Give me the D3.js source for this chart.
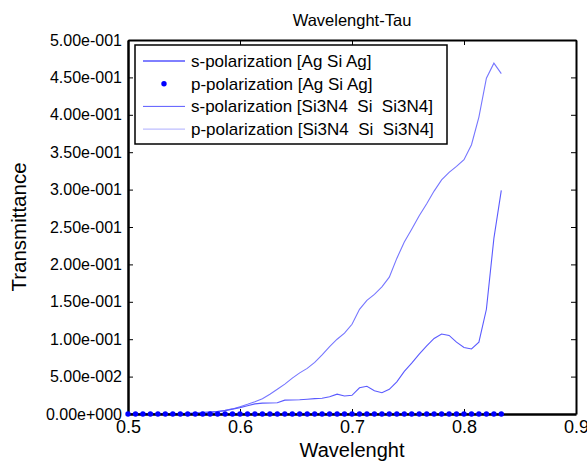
<!DOCTYPE html>
<html>
<head>
<meta charset="utf-8">
<script src="https://cdn.jsdelivr.net/npm/d3@7"></script>
<style>
  html, body { margin: 0; padding: 0; background: #fff; }
  svg { display: block; font-family: "Liberation Sans", Arial, sans-serif; }
  .pre { white-space: pre; }
</style>
</head>
<body>
<svg id="chart" width="587" height="461"></svg>
<script>
// ---- data ----
const wavelength = [
  0.5000, 0.5067, 0.5133, 0.5200, 0.5267, 0.5333, 0.5400, 0.5467, 0.5533, 0.5600,
  0.5667, 0.5733, 0.5800, 0.5867, 0.5933, 0.6000, 0.6067, 0.6133, 0.6200, 0.6267,
  0.6333, 0.6400, 0.6467, 0.6533, 0.6600, 0.6667, 0.6733, 0.6800, 0.6867, 0.6933,
  0.7000, 0.7067, 0.7133, 0.7200, 0.7267, 0.7333, 0.7400, 0.7467, 0.7533, 0.7600,
  0.7667, 0.7733, 0.7800, 0.7867, 0.7933, 0.8000, 0.8067, 0.8133, 0.8200, 0.8267,
  0.8333
];
const sAgSiAg = [
  0,0,0,0,0,0,0,0,0,0, 0,0,0,0,0,0,0,0,0,0, 0,0,0,0,0,0,0,0,0,0,
  0,0,0,0,0,0,0,0,0,0, 0,0,0,0,0,0,0,0,0,0, 0
];
const pAgSiAg = [
  0,0,0,0,0,0,0,0,0,0, 0,0,0,0,0,0,0,0,0,0, 0,0,0,0,0,0,0,0,0,0,
  0,0,0,0,0,0,0,0,0,0, 0,0,0,0,0,0,0,0,0,0, 0
];
const sSi3N4 = [
  0, 0, 0, 0, 0, 0, 0, 0, 0, 0.0005,
  0.001, 0.002, 0.003, 0.0045, 0.0065, 0.0085, 0.011, 0.0135, 0.0145, 0.0148,
  0.015, 0.0185, 0.0188, 0.019, 0.0198, 0.0205, 0.021, 0.023, 0.0265, 0.024,
  0.025, 0.035, 0.037, 0.031, 0.0285, 0.033, 0.043, 0.057, 0.068, 0.080,
  0.091, 0.101, 0.107, 0.105, 0.096, 0.089, 0.087, 0.096, 0.140, 0.235,
  0.299
];
const pSi3N4 = [
  0, 0, 0, 0, 0, 0, 0.0002, 0.0005, 0.001, 0.0015,
  0.0022, 0.003, 0.0035, 0.0048, 0.0068, 0.0098, 0.013, 0.0165, 0.0205, 0.0265,
  0.033, 0.040, 0.048, 0.055, 0.061, 0.069, 0.079, 0.090, 0.100, 0.108,
  0.120, 0.140, 0.152, 0.160, 0.170, 0.183, 0.208, 0.230, 0.247, 0.265,
  0.281, 0.298, 0.313, 0.323, 0.331, 0.340, 0.360, 0.397, 0.449, 0.469,
  0.455
];
const xTicks = [0.5, 0.6, 0.7, 0.8, 0.9];
const xTickLabels = ["0.5", "0.6", "0.7", "0.8", "0.9"];
const yTicks = [0, 0.05, 0.1, 0.15, 0.2, 0.25, 0.3, 0.35, 0.4, 0.45, 0.5];
const yTickLabels = ["0.00e+000", "5.00e-002", "1.00e-001", "1.50e-001", "2.00e-001",
  "2.50e-001", "3.00e-001", "3.50e-001", "4.00e-001", "4.50e-001", "5.00e-001"];
const seriesNames = ["s-polarization [Ag Si Ag]", "p-polarization [Ag Si Ag]",
  "s-polarization [Si3N4  Si  Si3N4]", "p-polarization [Si3N4  Si  Si3N4]"];
const chartTitle = "Wavelenght-Tau";
const xTitle = "Wavelenght";
const yTitle = "Transmittance";

// ---- layout ----
const L = 128, R = 576, T = 40, B = 414;
const svg = d3.select("#chart");
svg.append("rect").attr("width", 587).attr("height", 461).attr("fill", "#fff");

const x = d3.scaleLinear().domain([0.5, 0.9]).range([L, R]);
const y = d3.scaleLinear().domain([0, 0.5]).range([B, T]);

const colors = ["#0000ff", "#0000ff", "#5a5aff", "#7676ff"];

// curves
const line = d3.line().x((d, i) => x(wavelength[i])).y(d => y(d));
const g = svg.append("g");
g.append("path").datum(pSi3N4).attr("d", line).attr("fill", "none")
  .attr("stroke", colors[3]).attr("stroke-width", 1.1);
g.append("path").datum(sSi3N4).attr("d", line).attr("fill", "none")
  .attr("stroke", colors[2]).attr("stroke-width", 1.1);
g.append("path").datum(sAgSiAg).attr("d", line).attr("fill", "none")
  .attr("stroke", colors[0]).attr("stroke-width", 1);

// axes (box with inward ticks)
const fmtX = d => xTickLabels[xTicks.indexOf(d)];
const fmtY = d => yTickLabels[yTicks.indexOf(d)];

const axB = svg.append("g").attr("transform", `translate(0,${B})`)
  .call(d3.axisBottom(x).tickValues(xTicks).tickFormat(fmtX)
    .tickSizeInner(-5).tickSizeOuter(0).tickPadding(6));
const axL = svg.append("g").attr("transform", `translate(${L},0)`)
  .call(d3.axisLeft(y).tickValues(yTicks).tickFormat(fmtY)
    .tickSizeInner(-5).tickSizeOuter(0).tickPadding(6));
const axT = svg.append("g").attr("transform", `translate(0,${T})`)
  .call(d3.axisTop(x).tickValues(xTicks).tickFormat("")
    .tickSizeInner(-5).tickSizeOuter(0));
const axR = svg.append("g").attr("transform", `translate(${R},0)`)
  .call(d3.axisRight(y).tickValues(yTicks).tickFormat("")
    .tickSizeInner(-5).tickSizeOuter(0));

[axB, axL, axT, axR].forEach(a => {
  a.selectAll(".tick line").attr("stroke", "#000").attr("stroke-width", 1);
  a.select(".domain").attr("stroke", "#000").attr("stroke-width", 2);
});
axB.select(".domain").attr("stroke-width", 2.5);
axL.select(".domain").attr("stroke-width", 2.5);
axB.selectAll("text").attr("font-size", 18).attr("fill", "#000")
  .attr("font-family", "Liberation Sans, Arial, sans-serif");
axL.selectAll("text").attr("font-size", 16).attr("fill", "#000")
  .attr("font-family", "Liberation Sans, Arial, sans-serif");

// p-polarization [Ag Si Ag] dots
svg.append("g").selectAll("circle").data(pAgSiAg).join("circle")
  .attr("cx", (d, i) => x(wavelength[i])).attr("cy", d => y(d))
  .attr("r", 2.7).attr("fill", colors[1]);

// titles
svg.append("text").attr("x", (L + R) / 2).attr("y", 26).attr("text-anchor", "middle")
  .attr("font-size", 16.5).text(chartTitle);
svg.append("text").attr("x", (L + R) / 2).attr("y", 457).attr("text-anchor", "middle")
  .attr("font-size", 20).text(xTitle);
svg.append("text").attr("transform", `translate(26,${(T + B) / 2}) rotate(-90)`)
  .attr("text-anchor", "middle").attr("font-size", 20.5).text(yTitle);

// legend
const lg = svg.append("g");
lg.append("rect").attr("x", 135).attr("y", 45).attr("width", 312).attr("height", 99)
  .attr("fill", "#fff").attr("stroke", "#000").attr("stroke-width", 1.5);
const rowY = i => 61 + i * 22.7;
seriesNames.forEach((name, i) => {
  if (i === 1) {
    lg.append("circle").attr("cx", 164).attr("cy", rowY(i)).attr("r", 2.7).attr("fill", colors[1]);
  } else {
    lg.append("line").attr("x1", 143).attr("x2", 185).attr("y1", rowY(i)).attr("y2", rowY(i))
      .attr("stroke", colors[i]).attr("stroke-width", i === 3 ? 0.6 : 1);
  }
  lg.append("text").attr("class", "pre").attr("x", 191).attr("y", rowY(i)).attr("dy", "0.35em")
    .attr("font-size", 17).text(name);
});
</script>
</body>
</html>
